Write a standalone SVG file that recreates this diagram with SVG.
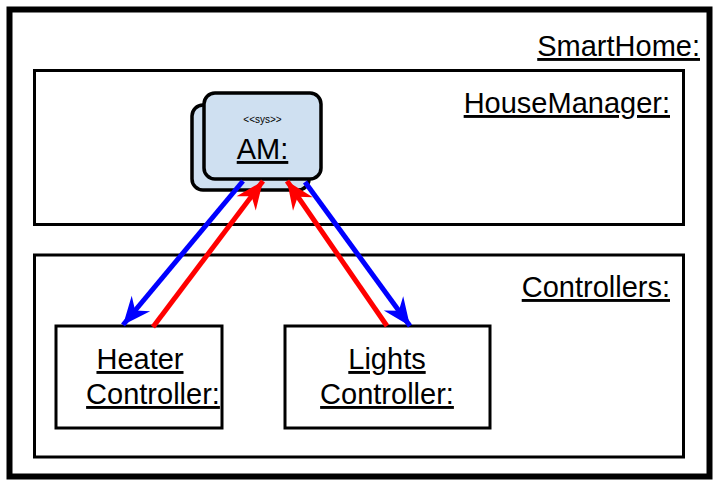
<svg xmlns="http://www.w3.org/2000/svg" width="714" height="481" viewBox="0 0 714 481">
  <style>
    .frame { fill: #ffffff; stroke: #000000; stroke-width: 3; }
    .outer { fill: #ffffff; stroke: #000000; stroke-width: 6; }
    .lbl { font-family: "Liberation Sans", Arial, sans-serif; font-size: 29px; fill: #000000; text-decoration: underline; }
    .small { font-family: "Liberation Sans", Arial, sans-serif; font-size: 10px; fill: #000000; }
    .am { fill: #cfe0f1; stroke: #000000; stroke-width: 3.5; }
    .blue { stroke: #0000ff; stroke-width: 5; fill: none; }
    .red { stroke: #ff0000; stroke-width: 5; fill: none; }
  </style>
  <defs>
    <marker id="headBlue" markerUnits="userSpaceOnUse" markerWidth="32" markerHeight="32" refX="0" refY="0" viewBox="-30 -15 32 30" orient="auto">
      <path d="M0,0 L-28,-12 L-19,0 L-28,12 Z" fill="#0000ff"/>
    </marker>
    <marker id="headRed" markerUnits="userSpaceOnUse" markerWidth="32" markerHeight="32" refX="0" refY="0" viewBox="-30 -15 32 30" orient="auto">
      <path d="M0,0 L-28,-12 L-19,0 L-28,12 Z" fill="#ff0000"/>
    </marker>
  </defs>

  <g id="smarthome">
    <rect class="outer" x="9.5" y="9.5" width="700" height="467"/>
    <text class="lbl" x="700" y="56" text-anchor="end">SmartHome:</text>
  </g>

  <g id="housemanager">
    <rect class="frame" x="34.5" y="70.5" width="649" height="154"/>
    <text class="lbl" x="670" y="113" text-anchor="end">HouseManager:</text>
  </g>

  <g id="controllers">
    <rect class="frame" x="34.5" y="255" width="649" height="202"/>
    <text class="lbl" x="670" y="297" text-anchor="end">Controllers:</text>
  </g>

  <g id="am">
    <rect class="am" x="192" y="105" width="117" height="85" rx="11"/>
    <rect class="am" x="204" y="93" width="117" height="86" rx="11"/>
    <text class="small" x="262.5" y="123" text-anchor="middle">&lt;&lt;sys&gt;&gt;</text>
    <text class="lbl" x="262.5" y="159" text-anchor="middle">AM:</text>
  </g>

  <g id="heater">
    <rect class="frame" x="56" y="326" width="166" height="102"/>
    <text class="lbl" x="140" y="369" text-anchor="middle">Heater</text>
    <text class="lbl" x="153" y="404" text-anchor="middle">Controller:</text>
  </g>

  <g id="lights">
    <rect class="frame" x="285" y="326" width="205" height="102"/>
    <text class="lbl" x="387" y="369" text-anchor="middle">Lights</text>
    <text class="lbl" x="387" y="404" text-anchor="middle">Controller:</text>
  </g>

  <g id="connectors">
    <line class="blue" x1="243" y1="181" x2="123" y2="325" marker-end="url(#headBlue)"/>
    <line class="red" x1="153" y1="327" x2="263" y2="181" marker-end="url(#headRed)"/>
    <line class="red" x1="387" y1="326" x2="287" y2="181" marker-end="url(#headRed)"/>
    <line class="blue" x1="305" y1="182" x2="410" y2="326" marker-end="url(#headBlue)"/>
  </g>
</svg>
